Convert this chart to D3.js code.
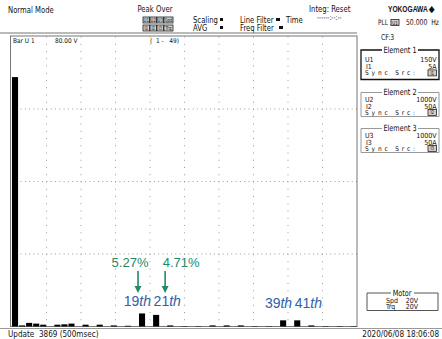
<!DOCTYPE html>
<meta charset="utf-8">
<style>
body { margin: 0; background: #fff; }
svg { display: block; }
text { white-space: pre; }
.lcd { font-family: "DejaVu Sans Condensed", "Liberation Sans Narrow", "Arial Narrow", sans-serif; fill: #111; }
.bar { fill: #000; }
.grid line { stroke: #9a9a9a; stroke-width: 1; }
.note { font-family: "Liberation Sans", Arial, sans-serif; font-size: 13px; }
</style>
<svg width="442" height="339"></svg>
<script src="https://cdn.jsdelivr.net/npm/d3@7"></script>
<script>
// harmonic orders 1..49, voltage in V (Bar U1, full scale 80 V)
var orders = d3.range(1, 50);
var volts = [68.8, 0.3, 1.0, 0.8, 0.5, 0, 0.5, 0.6, 0.8, 0,
             0.5, 0, 0.5, 0, 0.3, 0, 0.2, 0, 3.6, 0,
             3.2, 0, 0.3, 0, 0.1, 0, 0.1, 0, 0.3, 0,
             0.3, 0, 0.3, 0, 0.1, 0, 0.1, 0, 1.7, 0,
             1.7, 0, 0.3, 0, 0.1, 0, 0.1, 0, 0.1];
var fullScale = 80;
var pctNotes = [{order: 19, text: "5.27%", dx: -4, tx: -8}, {order: 21, text: "4.71%", dx: 9, tx: 16}];
var orderNotes = [19, 21, 39, 41];
var elements = [
  {name: "Element 1", u: "U1", uRange: "150V", i: "I1", iRange: "5A", sync: "I1", active: true},
  {name: "Element 2", u: "U2", uRange: "1000V", i: "I2", iRange: "50A", sync: "I2", active: false},
  {name: "Element 3", u: "U3", uRange: "1000V", i: "I3", iRange: "50A", sync: "I3", active: false}
];
var peakRow1 = ["U1", "U2", "U3", "Spd"],
    peakRow2 = ["I1", "I2", "I3", "Trq"];

var svg = d3.select("svg"),
    margin = {top: 36.5, left: 12, right: 85, bottom: 12.5},
    W = 442, H = 339,
    plotR = W - margin.right,
    plotB = H - margin.bottom;

var green = "#22896a", blue = "#2f62a6";

// condensed screen-font text
function txt(x, y, s, size, anchor, sx) {
  return svg.append("text").attr("class", "lcd")
    .attr("transform", "translate(" + x + "," + y + ") scale(" + (sx || 0.85) + ",1)")
    .attr("font-size", size || 8).attr("text-anchor", anchor || "start").text(s);
}
function chip(x0, y0, w, s) {
  svg.append("rect").attr("x", x0).attr("y", y0).attr("width", w).attr("height", 6)
    .attr("fill", "#d0d0d0").attr("stroke", "#222").attr("stroke-width", 0.8);
  txt(x0 + w / 2, y0 + 5, s, 5.5, "middle", 0.8);
}

// ---- header ----
txt(8, 13, "Normal Mode", 9);
txt(155, 12, "Peak Over", 9, "middle");
[peakRow1, peakRow2].forEach(function(row, r) {
  var x0 = 143;
  row.forEach(function(s) {
    var w = s.length > 2 ? 9 : 6.5;
    chip(x0, 17 + r * 8, w, s);
    x0 += w + 0.5;
  });
});
txt(193, 23, "Scaling", 9);
txt(193, 31, "AVG", 9);
svg.append("rect").attr("x", 220).attr("y", 18).attr("width", 3).attr("height", 3).attr("fill", "#111");
svg.append("rect").attr("x", 220).attr("y", 26).attr("width", 3).attr("height", 3).attr("fill", "#111");
txt(240, 23, "Line Filter", 9);
txt(240, 31, "Freq Filter", 9);
svg.append("rect").attr("x", 276).attr("y", 18).attr("width", 4).attr("height", 3).attr("fill", "#111");
svg.append("rect").attr("x", 279).attr("y", 26).attr("width", 4).attr("height", 3).attr("fill", "#111");
txt(286, 23, "Time", 9);
txt(309, 12, "Integ: Reset", 9);
txt(317, 19.5, "------:--:--", 7.5);
svg.append("text").attr("transform", "translate(388,12) scale(0.78,1)")
  .style("font-family", "Liberation Sans, Arial, sans-serif").style("font-weight", "bold")
  .attr("font-size", 8.5).attr("fill", "#111").text("YOKOGAWA \u25C6");
txt(378, 25, "PLL :", 7.5);
chip(391, 19.5, 8, "U1");
txt(439, 25, "50.000  Hz", 8, "end");

svg.append("line").attr("x1", 0).attr("x2", plotR).attr("y1", 33).attr("y2", 33)
  .attr("stroke", "#777").attr("stroke-width", 1);

// ---- plot frame & scales ----
var x = d3.scaleBand().domain(orders).range([margin.left, plotR]).paddingInner(0.14).paddingOuter(0.02).align(0);
var y = d3.scaleLinear().domain([0, fullScale]).range([plotB, margin.top]);
var gx = d3.scaleLinear().domain([0, 10]).range([margin.left, plotR]);

var grid = svg.append("g").attr("class", "grid");
var minorY = y(0) - y(fullScale / 40);
grid.selectAll(".vg").data(d3.range(1, 10)).enter().append("line")
  .attr("x1", gx).attr("x2", gx).attr("y1", y(fullScale)).attr("y2", y(0))
  .attr("stroke-dasharray", "1," + (minorY - 1));
grid.selectAll(".hg").data([20, 40, 60]).enter().append("line")
  .attr("x1", margin.left).attr("x2", plotR).attr("y1", y).attr("y2", y)
  .attr("stroke-dasharray", "1,3.3");

svg.append("rect").attr("x", margin.left - 1.5).attr("y", margin.top - 0.5)
  .attr("width", plotR - margin.left + 1.5).attr("height", plotB - margin.top + 0.5)
  .attr("fill", "none").attr("stroke", "#777").attr("stroke-width", 1);

txt(13, 43, "Bar U 1", 6.5, "start", 1);
txt(55, 43, "80.00 V", 6.5, "start", 1);
txt(150, 43, "(  1 -   49)", 6.5, "start", 1);

// ---- bars ----
svg.selectAll(".bar").data(orders).enter().append("rect")
  .attr("class", "bar")
  .attr("x", function(d) { return x(d); })
  .attr("width", x.bandwidth())
  .attr("y", function(d) { return y(volts[d - 1]); })
  .attr("height", function(d) { return y(0) - y(volts[d - 1]); });

// ---- annotations ----
pctNotes.forEach(function(n) {
  var cx = x(n.order) + x.bandwidth() / 2 + n.dx;
  svg.append("text").attr("class", "note").attr("x", cx + n.tx)
    .attr("y", 267).attr("text-anchor", "middle").attr("fill", green).text(n.text);
  svg.append("line").attr("x1", cx).attr("x2", cx).attr("y1", 271).attr("y2", 287)
    .attr("stroke", green).attr("stroke-width", 1.6);
  svg.append("path").attr("d", "M" + (cx - 3.5) + ",286L" + (cx + 3.5) + ",286L" + cx + ",293Z")
    .attr("fill", green);
});
orderNotes.forEach(function(o, k) {
  var left = k % 2 === 0;
  var t = svg.append("text").attr("class", "note").attr("fill", blue)
    .style("font-size", "14px")
    .attr("x", left ? x(o) + x.bandwidth() + 6 : x(o) + 0.5)
    .attr("y", o < 30 ? 306 : 308)
    .attr("text-anchor", left ? "end" : "start");
  t.append("tspan").text(o);
  t.append("tspan").attr("font-style", "italic").text("th");
});

// ---- right panel ----
txt(381, 40, "CF:3", 8);
elements.forEach(function(e, k) {
  var top = [50, 92.5, 128.5][k], bot = [79.5, 116.5, 152.5][k];
  var off = e.active ? [12, 18.6, 25.2] : [9.6, 16, 22.2];
  var col = e.active ? "#111" : "#999";
  svg.append("path")
    .attr("d", "M382," + top + "H361V" + bot + "H439V" + top + "H418")
    .attr("fill", "none").attr("stroke", col).attr("stroke-width", e.active ? 1.3 : 1);
  txt(400, top + 2.5, e.name, 8.5, "middle");
  txt(365, top + off[0], e.u, 7, "start", 1); txt(436.5, top + off[0], e.uRange, 7, "end", 1);
  txt(366, top + off[1], e.i, 7, "start", 1); txt(436.5, top + off[1], e.iRange, 7, "end", 1);
  txt(365, top + off[2], "Sync Src:", 6.5, "start", 1).attr("textLength", 50).attr("lengthAdjust", "spacing");
  chip(428, top + off[2] - 5.3, 8.5, e.sync);
});

// motor box
svg.append("path").attr("d", "M391,293H367V310.5H438V293H414")
  .attr("fill", "none").attr("stroke", "#555").attr("stroke-width", 1);
txt(402, 296, "Motor", 8.5, "middle");
txt(386, 302.5, "Spd", 7, "start", 1); txt(418, 302.5, "20V", 7, "end", 1);
txt(386, 309, "Trq", 7, "start", 1);   txt(418, 309, "20V", 7, "end", 1);

// ---- footer ----
svg.append("line").attr("x1", 0).attr("x2", W).attr("y1", 328.5).attr("y2", 328.5)
  .attr("stroke", "#999").attr("stroke-width", 1);
txt(8, 337, "Update  3869 (500msec)", 8.5, "start", 0.95);
txt(439, 337, "2020/06/08 18:06:08", 8.5, "end", 0.95);
</script>
